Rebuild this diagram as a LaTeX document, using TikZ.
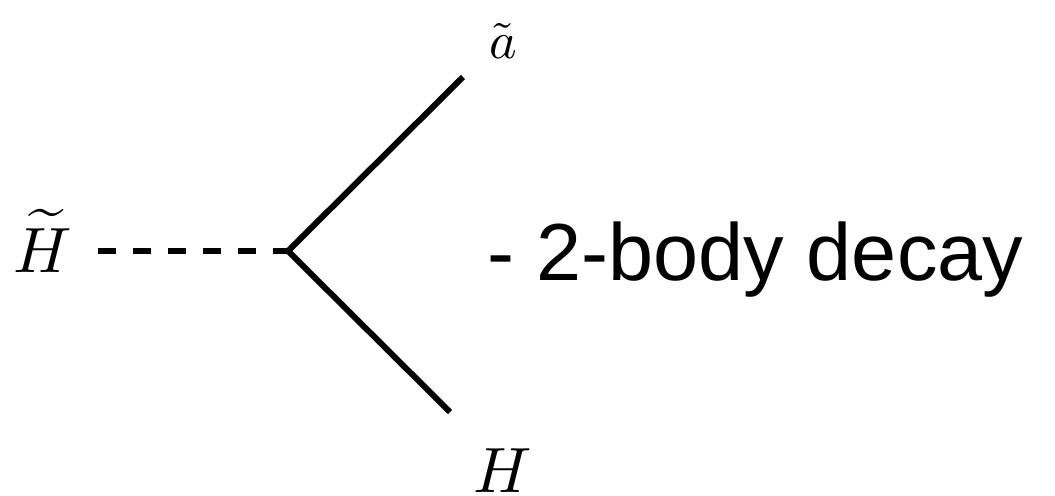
\documentclass[tikz,border=0pt]{standalone}
\usepackage{amsmath}
\usepackage{fontspec}
\usepackage{tikz}
\usetikzlibrary{positioning}
\newfontfamily\decayfont{Liberation Sans}

\begin{document}
\begin{tikzpicture}[x=0.5pt,y=0.5pt,
    prop/.style={line width=3pt},
    scalar/.style={prop, dash pattern=on 9pt off 8.5pt},
    fieldlabel/.style={inner sep=0pt, anchor=base, scale=3.2}]
  \useasboundingbox (0,0) rectangle (1055,495);
  % --- vertex and leg ends ---
  \coordinate (vtx)  at (288,244);
  \coordinate (hin)  at (98,244);
  \coordinate (aout) at (463,418);
  \coordinate (hout) at (450,83);
  % --- particle labels ---
  \node[fieldlabel] (htilde) at (43,223) {$\widetilde{H}$};
  \node[fieldlabel, scale=0.82] (atilde) at (503,437) {$\tilde{a}$};
  \node[fieldlabel] (higgs) at (503,3) {$H$};
  % --- legs ---
  \draw[scalar] (hin) -- (vtx);
  \draw[prop] (aout) -- (vtx) -- (hout);
  % --- caption ---
  \node[inner sep=0pt, anchor=base west, font=\decayfont\fontsize{40.5}{48}\selectfont]
    (caption) at (487,215) {- 2-body decay};
\end{tikzpicture}
\end{document}
